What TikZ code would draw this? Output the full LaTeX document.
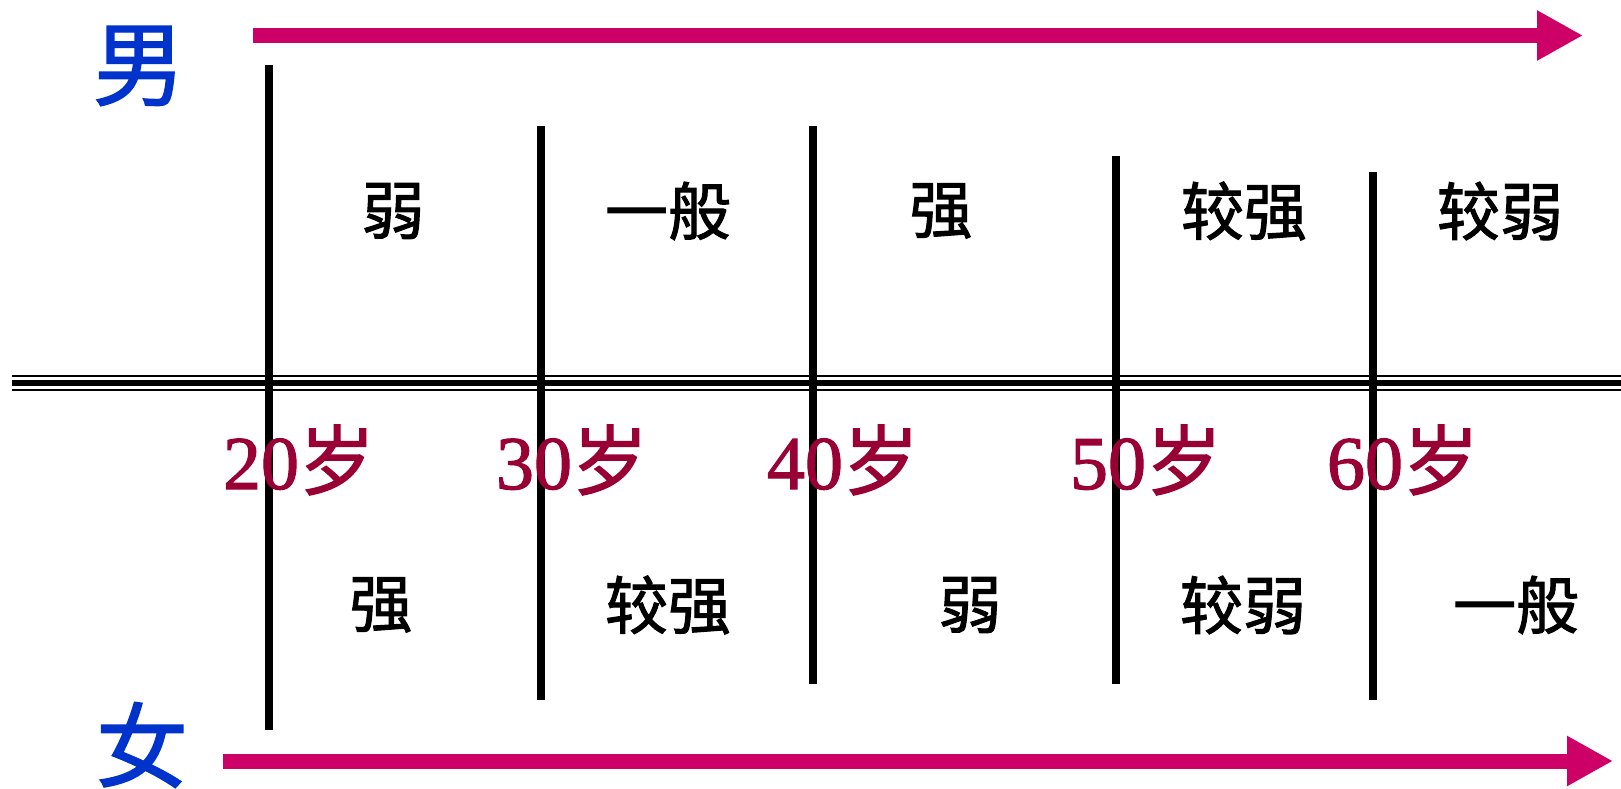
\documentclass[tikz,border=0pt]{standalone}
\usepackage{fontspec}
\setmainfont{Liberation Serif}
\newfontfamily\cjk{Noto Sans CJK SC}[FakeBold=1.6]
\newfontfamily\digitfont{Liberation Serif}[FakeBold=1.5]
\usetikzlibrary{arrows.meta}
\definecolor{sexblue}{HTML}{0033CC}
\definecolor{agered}{HTML}{990033}
\definecolor{arrowpink}{HTML}{CC0066}
\tikzset{
  lbl/.style={inner sep=0pt, font=\cjk\fontsize{63}{63}\selectfont, text=black},
  sexlbl/.style={inner sep=0pt, font=\cjk\fontsize{92}{92}\selectfont, text=sexblue},
  agelbl/.style={inner sep=0pt, font=\digitfont\fontsize{76}{76}\selectfont, text=agered},
  divider/.style={line width=8pt, black},
  timearrow/.style={line width=15pt, arrowpink, -{Triangle[length=46pt,width=47pt]}},
  axisthin/.style={line width=2.5pt, black},
  axisthick/.style={line width=5.5pt, black}
}
\newcommand{\agetxt}[1]{#1{\cjk 岁}}
\begin{document}
\begin{tikzpicture}[x=1pt,y=-1pt]
\useasboundingbox (0,0) rectangle (1621,789);
% arrows
\coordinate (mstart) at (253,35.5);
\coordinate (mend) at (1583,35.5);
\coordinate (fstart) at (223,761);
\coordinate (fend) at (1613,761);
\draw[timearrow] (mstart) -- (mend);
\draw[timearrow] (fstart) -- (fend);
% sex labels
\node[sexlbl] (male) at (139,66) {男};
\node[sexlbl] (female) at (142,745) {女};
% triple axis
\coordinate (axl) at (12,383);
\coordinate (axr) at (1621,383);
\draw[axisthin] ([yshift=-7pt]axl) -- ([yshift=-7pt]axr);
\draw[axisthick] (axl) -- (axr);
\draw[axisthin] ([yshift=7pt]axl) -- ([yshift=7pt]axr);
% dividers
\coordinate (d1t) at (269,65);   \coordinate (d1b) at (269,730);
\coordinate (d2t) at (541,126);  \coordinate (d2b) at (541,700);
\coordinate (d3t) at (813,126);  \coordinate (d3b) at (813,684);
\coordinate (d4t) at (1116,156); \coordinate (d4b) at (1116,684);
\coordinate (d5t) at (1373,172); \coordinate (d5b) at (1373,700);
\foreach \i in {1,...,5} \draw[divider] (d\i t) -- (d\i b);
% male row
\node[lbl] (m1) at (393,211) {弱};
\node[lbl] (m2) at (668,211) {一般};
\node[lbl] (m3) at (941,211) {强};
\node[lbl] (m4) at (1244,211) {较强};
\node[lbl] (m5) at (1500,211) {较弱};
% female row
\node[lbl] (f1) at (381,605) {强};
\node[lbl] (f2) at (668,605) {较强};
\node[lbl] (f3) at (970,605) {弱};
\node[lbl] (f4) at (1243,605) {较弱};
\node[lbl] (f5) at (1516,605) {一般};
% ages
\node[agelbl] (a20) at (299,460) {\agetxt{20}};
\node[agelbl] (a30) at (572,460) {\agetxt{30}};
\node[agelbl] (a40) at (843,460) {\agetxt{40}};
\node[agelbl] (a50) at (1146,460) {\agetxt{50}};
\node[agelbl] (a60) at (1403,460) {\agetxt{60}};
\end{tikzpicture}
\end{document}
